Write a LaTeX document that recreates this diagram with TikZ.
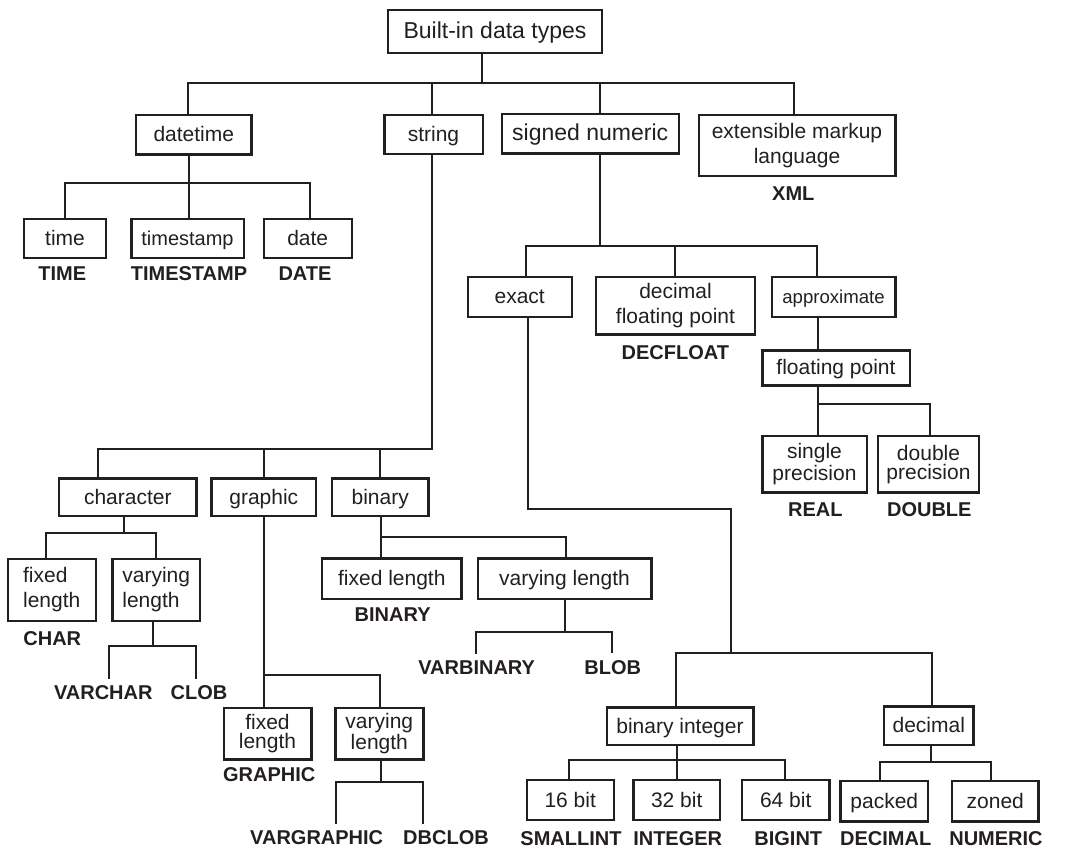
\documentclass[tikz,border=0pt]{standalone}
\usepackage{fontspec}
\setmainfont{Liberation Sans}
\definecolor{ink}{HTML}{231F20}
\tikzset{
  box/.style 2 args={draw=ink, line width=1.2pt, text=ink, inner sep=0pt, align=center,
    minimum width=#1*0.5pt, minimum height=#2*0.5pt, text height=8.4pt, text depth=1.4pt,
    font=\fontsize{10.5}{12.5}\selectfont},
  multi/.style={text height=, text depth=},
  tight/.style={multi, font=\fontsize{10.5}{9.7}\selectfont},
  fsz/.style={font=\fontsize{#1}{12.5}\selectfont},
  sqlname/.style={text=ink, font=\bfseries\fontsize{10}{12}\selectfont, inner sep=3.3pt},
  link/.style={draw=ink, line width=1pt}
}
\begin{document}
\begin{tikzpicture}[x=0.5pt, y=-0.5pt]
\useasboundingbox (0,0) rectangle (1067,848);
\node[box={214}{43}, fsz=11.5] (root) at (495,31.5) {Built-in data types};
\node[box={115.7}{39.6}] (datetime) at (193.8,134.5) {datetime};
\node[box={98.4}{39}] (string) at (433.5,134.5) {string};
\node[box={177}{39.3}, fsz=11.5] (signum) at (590.2,133.7) {signed numeric};
\node[box={196.6}{61}, multi] (xml) at (797,145.2) {extensible markup\\language};
\node[sqlname] (xmlL) at (793.3,193.3) {XML};
\node[box={82}{39}] (time) at (65,238.5) {time};
\node[box={112.4}{39}, fsz=10] (timestamp) at (187.5,238.5) {timestamp};
\node[box={88}{39}] (date) at (307.7,238.5) {date};
\node[sqlname] (timeL) at (62.3,273.3) {TIME};
\node[sqlname] (timestampL) at (189,273.3) {TIMESTAMP};
\node[sqlname] (dateL) at (305,273.3) {DATE};
\node[box={104}{40}] (exact) at (519.7,296.7) {exact};
\node[box={159}{57.6}, multi] (decfloat) at (675.5,305.5) {decimal\\floating point};
\node[sqlname] (decfloatL) at (675.3,352.7) {DECFLOAT};
\node[box={123.6}{40}, fsz=9.3] (approx) at (833.5,296.7) {approximate};
\node[box={147.4}{35}] (floatpt) at (836,367.8) {floating point};
\node[box={104.4}{56.7}, tight] (single) at (814.5,464.3) {single\\precision};
\node[box={101}{56.7}, tight] (double) at (928.5,464.3) {double\\precision};
\node[sqlname] (singleL) at (815.3,509.3) {REAL};
\node[sqlname] (doubleL) at (929.3,509.3) {DOUBLE};
\node[box={137.7}{37.3}] (character) at (127.8,497.3) {character};
\node[box={104.3}{37.3}] (graphic) at (263.8,497.3) {graphic};
\node[box={96.3}{37.3}] (binary) at (380.2,497.3) {binary};
\node[box={88}{62}, multi, align=left] (cfixed) at (51.7,589.7) {fixed\\length};
\node[box={87.7}{62}, multi, align=left] (cvary) at (156.2,589.7) {varying\\length};
\node[sqlname] (cfixedL) at (52.3,638.3) {CHAR};
\node[sqlname] (varcharL) at (103.3,692.7) {VARCHAR};
\node[sqlname] (clobL) at (199,692.7) {CLOB};
\node[box={139.7}{40.7}] (bfixed) at (391.8,578.7) {fixed length};
\node[box={173.6}{40.7}] (bvary) at (564.5,578.7) {varying length};
\node[sqlname] (bfixedL) at (392.7,615) {BINARY};
\node[sqlname] (varbinL) at (476.7,667.5) {VARBINARY};
\node[sqlname] (blobL) at (612.7,667.5) {BLOB};
\node[box={87.6}{51.6}, tight] (gfixed) at (267.5,733.5) {fixed\\length};
\node[box={88}{51.6}, tight] (gvary) at (379.3,733.5) {varying\\length};
\node[sqlname] (gfixedL) at (269.3,774.3) {GRAPHIC};
\node[sqlname] (vargraphL) at (316.7,837.7) {VARGRAPHIC};
\node[sqlname] (dbclobL) at (446,837.7) {DBCLOB};
\node[box={146.6}{37.3}] (binint) at (680,726.3) {binary integer};
\node[box={89.7}{38.3}] (decimal) at (928.8,725.8) {decimal};
\node[box={87}{40}] (b16) at (570.2,800) {16 bit};
\node[box={86.7}{40}] (b32) at (676.7,800) {32 bit};
\node[box={87.3}{40}] (b64) at (785.7,800) {64 bit};
\node[box={87.3}{40.7}] (packed) at (884.3,801.3) {packed};
\node[box={86.7}{40.7}] (zoned) at (995.3,801.3) {zoned};
\node[sqlname] (b16L) at (571,838.3) {SMALLINT};
\node[sqlname] (b32L) at (677.7,838.3) {INTEGER};
\node[sqlname] (b64L) at (788.3,838.3) {BIGINT};
\node[sqlname] (packedL) at (885.7,838.3) {DECIMAL};
\node[sqlname] (zonedL) at (996,838.3) {NUMERIC};

\coordinate (rootJ) at (482.3,83.3);
\coordinate (datetimeJ) at (188.3,83.3);
\coordinate (stringJ) at (431.7,83.3);
\coordinate (signumJ) at (600.3,83.3);
\coordinate (xmlJ) at (794,83.3);
\draw[link] (root.south -| rootJ) -- (rootJ)
  (datetime.north -| datetimeJ) -- (datetimeJ) -- (xmlJ) -- (xml.north -| xmlJ)
  (stringJ) -- (string.north -| stringJ)
  (signumJ) -- (signum.north -| signumJ);

\coordinate (dtJ) at (189.3,182.7);
\coordinate (timeJ) at (65,182.7);
\coordinate (dateJ) at (310,182.7);
\draw[link] (datetime.south -| dtJ) -- (timestamp.north -| dtJ)
  (time.north -| timeJ) -- (timeJ) -- (dateJ) -- (date.north -| dateJ);

\coordinate (stJ) at (431.7,448.7);
\coordinate (charJ) at (98.3,448.7);
\coordinate (graphJ) at (264,448.7);
\coordinate (binJ) at (379.5,448.7);
\draw[link] (string.south -| stJ) -- (stJ) -- (charJ) -- (character.north -| charJ)
  (graphJ) -- (graphic.north -| graphJ)
  (binJ) -- (binary.north -| binJ);

\coordinate (chJ) at (124.3,533.3);
\coordinate (cfJ) at (46,533.3);
\coordinate (cvJ) at (156,533.3);
\draw[link] (character.south -| chJ) -- (chJ)
  (cfixed.north -| cfJ) -- (cfJ) -- (cvJ) -- (cvary.north -| cvJ);

\coordinate (cvbJ) at (153,645.7);
\coordinate (vcJ) at (109.3,645.7);
\coordinate (clJ) at (196.3,645.7);
\draw[link] (cvary.south -| cvbJ) -- (cvbJ)
  (varcharL.north -| vcJ) -- (vcJ) -- (clJ) -- (clobL.north -| clJ);

\coordinate (grJ) at (264,675);
\coordinate (gvJ) at (380.3,675);
\draw[link] (graphic.south -| grJ) -- (gfixed.north -| grJ)
  (grJ) -- (gvJ) -- (gvary.north -| gvJ);

\coordinate (gvbJ) at (381.3,782.3);
\coordinate (vgJ) at (335.7,782.3);
\coordinate (dbJ) at (423.3,782.3);
\draw[link] (gvary.south -| gvbJ) -- (gvbJ)
  (vargraphL.north -| vgJ) -- (vgJ) -- (dbJ) -- (dbclobL.north -| dbJ);

\coordinate (biJ) at (381.3,537.3);
\coordinate (bvJ) at (566,537.3);
\draw[link] (binary.south -| biJ) -- (bfixed.north -| biJ)
  (biJ) -- (bvJ) -- (bvary.north -| bvJ);

\coordinate (bvbJ) at (565,631.7);
\coordinate (vbJ) at (475.7,631.7);
\coordinate (blJ) at (611.7,631.7);
\draw[link] (bvary.south -| bvbJ) -- (bvbJ)
  (varbinL.north -| vbJ) -- (vbJ) -- (blJ) -- (blobL.north -| blJ);

\coordinate (snJ) at (600.3,246);
\coordinate (exJ) at (525.7,246);
\coordinate (dfJ) at (675.3,246);
\coordinate (apJ) at (816.7,246);
\draw[link] (signum.south -| snJ) -- (snJ)
  (exact.north -| exJ) -- (exJ) -- (apJ) -- (approx.north -| apJ)
  (dfJ) -- (decfloat.north -| dfJ);

\coordinate (fpJ) at (817.7,404.3);
\coordinate (dbpJ) at (929.7,404.3);
\draw[link] (approx.south -| fpJ) -- (floatpt.north -| fpJ)
  (floatpt.south -| fpJ) -- (single.north -| fpJ)
  (fpJ) -- (dbpJ) -- (double.north -| dbpJ);

\coordinate (exA) at (528,509.3);
\coordinate (exB) at (731.3,509.3);
\coordinate (exC) at (731.3,653.3);
\coordinate (biiJ) at (675.7,653.3);
\coordinate (deJ) at (931.7,653.3);
\draw[link] (exact.south -| exA) -- (exA) -- (exB) -- (exC)
  (binint.north -| biiJ) -- (biiJ) -- (deJ) -- (decimal.north -| deJ);

\coordinate (bibJ) at (676.7,760.3);
\coordinate (b16J) at (569,760.3);
\coordinate (b64J) at (785,760.3);
\draw[link] (binint.south -| bibJ) -- (b32.north -| bibJ)
  (b16.north -| b16J) -- (b16J) -- (b64J) -- (b64.north -| b64J);

\coordinate (debJ) at (930.7,761.7);
\coordinate (paJ) at (879.7,761.7);
\coordinate (zoJ) at (990.7,761.7);
\draw[link] (decimal.south -| debJ) -- (debJ)
  (packed.north -| paJ) -- (paJ) -- (zoJ) -- (zoned.north -| zoJ);
\end{tikzpicture}
\end{document}
